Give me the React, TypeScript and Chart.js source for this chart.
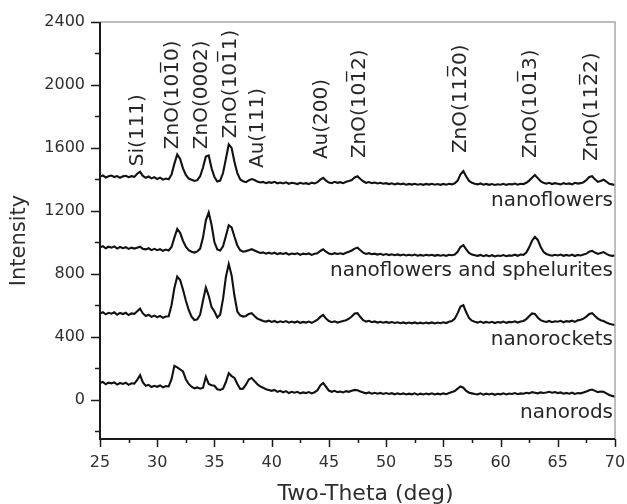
import React, { useEffect, useRef } from "react";
import { Chart, registerables } from "chart.js";

Chart.register(...registerables);

// Two-Theta positions (deg)
const twoTheta = [
  25, 25.25, 25.5, 25.75, 26, 26.25, 26.5, 26.75, 27, 27.25, 27.5, 27.75,
  28, 28.25, 28.5, 28.75, 29, 29.25, 29.5, 29.75, 30, 30.25, 30.5, 30.75,
  31, 31.25, 31.5, 31.75, 32, 32.25, 32.5, 32.75, 33, 33.25, 33.5, 33.75,
  34, 34.25, 34.5, 34.75, 35, 35.25, 35.5, 35.75, 36, 36.25, 36.5, 36.75,
  37, 37.25, 37.5, 37.75, 38, 38.25, 38.5, 38.75, 39, 39.25, 39.5, 39.75,
  40, 40.25, 40.5, 40.75, 41, 41.25, 41.5, 41.75, 42, 42.25, 42.5, 42.75,
  43, 43.25, 43.5, 43.75, 44, 44.25, 44.5, 44.75, 45, 45.25, 45.5, 45.75,
  46, 46.25, 46.5, 46.75, 47, 47.25, 47.5, 47.75, 48, 48.25, 48.5, 48.75,
  49, 49.25, 49.5, 49.75, 50, 50.25, 50.5, 50.75, 51, 51.25, 51.5, 51.75,
  52, 52.25, 52.5, 52.75, 53, 53.25, 53.5, 53.75, 54, 54.25, 54.5, 54.75,
  55, 55.25, 55.5, 55.75, 56, 56.25, 56.5, 56.75, 57, 57.25, 57.5, 57.75,
  58, 58.25, 58.5, 58.75, 59, 59.25, 59.5, 59.75, 60, 60.25, 60.5, 60.75,
  61, 61.25, 61.5, 61.75, 62, 62.25, 62.5, 62.75, 63, 63.25, 63.5, 63.75,
  64, 64.25, 64.5, 64.75, 65, 65.25, 65.5, 65.75, 66, 66.25, 66.5, 66.75,
  67, 67.25, 67.5, 67.75, 68, 68.25, 68.5, 68.75, 69, 69.25, 69.5, 69.75,
  70,
];

const nanoflowers = [
  1418, 1425, 1412, 1420, 1424, 1415, 1421, 1410, 1419, 1423, 1414, 1420,
  1416, 1436, 1448, 1422, 1410, 1418, 1406, 1414, 1402, 1411, 1398, 1405,
  1400, 1430, 1500, 1558, 1530, 1470, 1428, 1405, 1398, 1390, 1395, 1420,
  1475, 1545, 1552, 1470, 1415, 1386, 1392, 1440, 1530, 1622, 1600, 1510,
  1440, 1400, 1388, 1382, 1394, 1402, 1396, 1386, 1380, 1384, 1376, 1382,
  1378, 1384, 1375, 1380, 1374, 1381, 1372, 1378, 1375, 1370, 1378, 1372,
  1376, 1370, 1379, 1374, 1382, 1398, 1410, 1392, 1380, 1376, 1384, 1378,
  1382, 1376, 1385, 1390, 1396, 1412, 1420, 1402, 1388, 1378, 1383, 1376,
  1380, 1374, 1378, 1372, 1376, 1370, 1375, 1368, 1374, 1369, 1373, 1366,
  1371, 1367, 1372, 1366, 1370, 1365, 1371, 1367, 1372, 1366, 1370, 1365,
  1371, 1366, 1372, 1368, 1375, 1392, 1432, 1452, 1418, 1390, 1378, 1372,
  1368, 1374, 1366, 1371, 1365, 1370, 1364, 1369, 1366, 1372, 1365, 1370,
  1368, 1373, 1366, 1372, 1370, 1378, 1392, 1410, 1428, 1408, 1388, 1378,
  1372, 1378, 1370, 1376, 1372, 1368, 1376, 1371, 1374, 1368, 1378, 1373,
  1376, 1382, 1396, 1415, 1420, 1400, 1385, 1390, 1398, 1385, 1372, 1368,
  1364,
];

const nanoflowersSphelurites = [
  968, 975, 962, 972, 966, 974, 960, 970, 963, 969, 958, 966,
  960, 966, 972, 958, 955, 962, 950, 958, 950, 956, 946, 954,
  948, 970, 1030, 1085, 1060, 1010, 972, 950, 940, 935, 942, 960,
  1030, 1140, 1190, 1110, 1000, 955, 948, 975, 1040, 1108, 1095, 1035,
  980, 950, 940, 944, 950, 956, 948, 940, 932, 936, 928, 934,
  928, 934, 925, 931, 926, 932, 922, 929, 925, 930, 921, 928,
  924, 929, 920, 927, 930, 945, 955, 940, 928, 924, 931, 926,
  930, 925, 934, 940, 948, 960, 966, 950, 934, 926, 931, 924,
  928, 922, 927, 920, 925, 919, 924, 918, 923, 917, 922, 916,
  921, 916, 922, 915, 920, 915, 921, 916, 921, 914, 920, 915,
  919, 914, 921, 918, 922, 940, 970, 982, 955, 932, 922, 918,
  914, 920, 912, 918, 912, 918, 910, 916, 913, 919, 912, 917,
  915, 921, 914, 922, 920, 935, 968, 1010, 1035, 1015, 972, 940,
  926, 920, 915, 921, 916, 922, 914, 920, 915, 921, 913, 920,
  916, 922, 928, 940, 946, 935, 926, 932, 938, 926, 918, 914,
  916,
];

const nanorockets = [
  548, 556, 542, 552, 546, 555, 540, 551, 544, 552, 538, 548,
  545, 562, 578, 548, 532, 540, 526, 534, 524, 532, 520, 528,
  530, 600, 710, 782, 760, 700, 630, 570, 528, 506, 510, 540,
  630, 712, 660, 588, 560, 522, 540, 640, 780, 862, 790, 660,
  560, 535, 528, 532, 545, 550, 532, 515, 508, 500, 496, 502,
  494, 500, 491, 498, 492, 499, 489, 496, 490, 497, 488, 494,
  490, 496, 488, 498, 508, 526, 538, 515, 500, 492, 498, 490,
  495, 500, 505, 515, 528, 548, 550, 525, 505, 496, 501, 492,
  497, 490, 495, 489, 494, 488, 493, 487, 492, 486, 491, 485,
  490, 485, 491, 484, 489, 484, 490, 485, 491, 484, 490, 486,
  492, 487, 495, 500, 515, 550, 592, 600, 555, 518, 502, 495,
  490, 496, 488, 494, 489, 495, 487, 493, 490, 496, 488, 494,
  492, 498, 490, 497, 500, 512, 530, 548, 545, 522, 505, 498,
  494, 500, 492, 498, 495, 501, 492, 499, 496, 502, 494, 504,
  508, 515, 528, 545, 550, 532, 515, 505, 500, 490, 482, 478,
  474,
];

const nanorods = [
  106, 112, 98, 108, 104, 110, 96, 106, 100, 108, 94, 104,
  102, 125, 156, 110, 88, 94, 80, 88, 82, 90, 78, 86,
  84, 130, 215, 205, 192, 180, 130, 100, 82, 72, 78, 70,
  76, 145, 100, 92, 88, 66, 62, 70, 112, 168, 150, 138,
  100, 68, 70, 95, 128, 138, 118, 98, 84, 76, 66, 62,
  56, 62, 50, 56, 46, 54, 42, 50, 44, 50, 40, 46,
  42, 48, 40, 47, 60, 90, 106, 82, 58, 50, 56, 48,
  52, 46, 54, 50, 56, 62, 60, 52, 46, 40, 46, 38,
  44, 38, 43, 36, 42, 36, 41, 34, 40, 35, 40, 33,
  38, 34, 40, 32, 38, 33, 39, 34, 40, 33, 38, 34,
  40, 35, 42, 48, 55, 70, 84, 76, 56, 44, 40, 36,
  34, 40, 32, 38, 33, 39, 31, 37, 34, 40, 33, 39,
  36, 42, 35, 40, 38, 44, 40, 48, 44, 40, 46, 42,
  45, 50, 44, 48, 42, 46, 38, 43, 38, 44, 36, 42,
  40, 46, 52, 60, 64, 56, 48, 52, 50, 40, 30, 24,
  19,
];

const seriesNames = ["nanoflowers", "nanoflowers and sphelurites", "nanorockets", "nanorods"];
// label anchor (intensity units, at right edge)
const seriesLabelY = [1263, 821, 379, -82];

const xTicks = [25, 30, 35, 40, 45, 50, 55, 60, 65, 70];
const xMinorTicks = [27.5, 32.5, 37.5, 42.5, 47.5, 52.5, 57.5, 62.5, 67.5];
const yTicks = [0, 400, 800, 1200, 1600, 2000, 2400];
const yMinorTicks = [-200, 200, 600, 1000, 1400, 1800, 2200];

const xTitle = "Two-Theta (deg)";
const yTitle = "Intensity";

const OL = "\u0305";
const peakNames = [
  "Si(111)",
  "ZnO(101" + OL + "0)",
  "ZnO(0002)",
  "ZnO(101" + OL + "1)",
  "Au(111)",
  "Au(200)",
  "ZnO(101" + OL + "2)",
  "ZnO(112" + OL + "0)",
  "ZnO(101" + OL + "3)",
  "ZnO(112" + OL + "2)",
];
// label anchors: centre two-theta and baseline start intensity
const peakLabelX = [28.3, 31.4, 33.9, 36.4, 38.8, 44.4, 47.7, 56.5, 62.6, 68.0];
const peakLabelY = [1484, 1592, 1592, 1661, 1472, 1529, 1535, 1567, 1535, 1516];

const FONT = '"DejaVu Sans", "Liberation Sans", Arial, sans-serif';
const TEXT = "#262626";

const framePlugin = {
  id: "xrdFrame",
  afterDatasetsDraw(chart: any) {
    const { ctx, chartArea: a, scales } = chart;
    const xs = scales.x;
    const ys = scales.y;
    ctx.save();
    // gray top/right frame
    ctx.strokeStyle = "#a8a8a8";
    ctx.lineWidth = 1.5;
    ctx.beginPath();
    ctx.moveTo(a.left, a.top);
    ctx.lineTo(a.right, a.top);
    ctx.lineTo(a.right, a.bottom);
    ctx.stroke();
    // black axes
    ctx.strokeStyle = "#1a1a1a";
    ctx.lineWidth = 2;
    ctx.beginPath();
    ctx.moveTo(a.left, a.top);
    ctx.lineTo(a.left, a.bottom);
    ctx.lineTo(a.right, a.bottom);
    ctx.stroke();
    // ticks
    ctx.lineWidth = 1.5;
    ctx.beginPath();
    yTicks.forEach((v) => {
      const p = Math.round(ys.getPixelForValue(v)) + 0.5;
      ctx.moveTo(a.left - 9, p);
      ctx.lineTo(a.left, p);
    });
    yMinorTicks.forEach((v) => {
      const p = Math.round(ys.getPixelForValue(v)) + 0.5;
      ctx.moveTo(a.left - 5, p);
      ctx.lineTo(a.left, p);
    });
    xTicks.forEach((v) => {
      const p = Math.round(xs.getPixelForValue(v)) + 0.5;
      ctx.moveTo(p, a.bottom);
      ctx.lineTo(p, a.bottom + 8);
    });
    xMinorTicks.forEach((v) => {
      const p = Math.round(xs.getPixelForValue(v)) + 0.5;
      ctx.moveTo(p, a.bottom);
      ctx.lineTo(p, a.bottom + 4);
    });
    ctx.stroke();

    // axis titles
    ctx.fillStyle = "#2e2e2e";
    ctx.textAlign = "center";
    ctx.textBaseline = "middle";
    ctx.font = "22px " + FONT;
    ctx.fillText(xTitle, (a.left + a.right) / 2 + 8, a.bottom + 55);
    ctx.save();
    ctx.font = "21px " + FONT;
    ctx.translate(20, (a.top + a.bottom) / 2 + 10);
    ctx.rotate(-Math.PI / 2);
    ctx.fillText(yTitle, 0, 0);
    ctx.restore();

    // peak labels (vertical)
    ctx.fillStyle = TEXT;
    ctx.font = "20px " + FONT;
    ctx.textAlign = "left";
    ctx.textBaseline = "middle";
    peakNames.forEach((name, i) => {
      const px = xs.getPixelForValue(peakLabelX[i]);
      const py = ys.getPixelForValue(peakLabelY[i]);
      ctx.save();
      ctx.translate(px, py);
      ctx.rotate(-Math.PI / 2);
      ctx.fillText(name, 0, 0);
      ctx.restore();
    });

    // series labels
    ctx.textAlign = "right";
    seriesNames.forEach((name, i) => {
      ctx.fillText(name, a.right - 2, ys.getPixelForValue(seriesLabelY[i]));
    });
    ctx.restore();
  },
};

export default function App() {
  const ref = useRef<HTMLCanvasElement | null>(null);

  useEffect(() => {
    if (!ref.current) return;
    const series = [nanoflowers, nanoflowersSphelurites, nanorockets, nanorods];
    const chart = new Chart(ref.current, {
      type: "line",
      data: {
        datasets: series.map((vals, i) => ({
          label: seriesNames[i],
          data: twoTheta.map((t, j) => ({ x: t, y: vals[j] })),
          borderColor: "#111111",
          borderWidth: 2.1,
          pointRadius: 0,
          tension: 0,
          fill: false,
        })),
      },
      options: {
        responsive: false,
        animation: false,
        events: [],
        layout: { padding: { left: 0, top: 22, right: 12, bottom: 0 } },
        plugins: { legend: { display: false }, tooltip: { enabled: false } },
        scales: {
          x: {
            type: "linear",
            min: 25,
            max: 70,
            grid: { display: false, drawTicks: false },
            border: { display: false },
            afterBuildTicks: (s: any) => {
              s.ticks = xTicks.map((v) => ({ value: v }));
            },
            afterFit: (s: any) => {
              s.height = 65;
              s.paddingLeft = 0;
              s.paddingRight = 0;
            },
            ticks: {
              font: { family: FONT, size: 16 },
              color: "#2e2e2e",
              padding: 14,
              maxRotation: 0,
              autoSkip: false,
              callback: (v: any) => String(v),
            },
            title: { display: false, text: xTitle },
          },
          y: {
            type: "linear",
            min: -250,
            max: 2400,
            grid: { display: false, drawTicks: false },
            border: { display: false },
            afterBuildTicks: (s: any) => {
              s.ticks = yTicks.map((v) => ({ value: v }));
            },
            afterFit: (s: any) => {
              s.width = 100;
              s.paddingTop = 0;
              s.paddingBottom = 0;
            },
            ticks: {
              font: { family: FONT, size: 16 },
              color: "#2e2e2e",
              padding: 15,
              autoSkip: false,
              callback: (v: any) => String(v),
            },
            title: { display: false, text: yTitle },
          },
        },
      },
      plugins: [framePlugin],
    });
    return () => chart.destroy();
  }, []);

  return (
    <div style={{ position: "fixed", left: 0, top: 0, width: 627, height: 504, background: "#fff" }}>
      <canvas ref={ref} width={627} height={504} style={{ display: "block" }} />
    </div>
  );
}
